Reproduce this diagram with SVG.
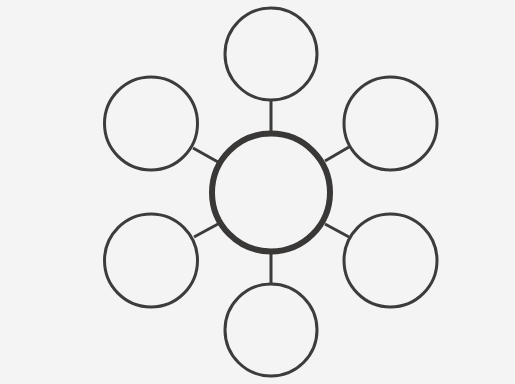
<svg xmlns="http://www.w3.org/2000/svg" width="515" height="384" viewBox="0 0 515 384">
  <style>
    .outer { fill: none; stroke: #3d3b3b; stroke-width: 3; }
    .hub { fill: none; stroke: #3a3737; stroke-width: 6; }
    .link { stroke: #3d3b3b; stroke-width: 3; fill: none; }
  </style>
  <rect x="0" y="0" width="515" height="384" fill="#f4f4f4"/>
  <g id="connectors">
    <line class="link" x1="271" y1="100" x2="271" y2="131"/>
    <line class="link" x1="271" y1="254" x2="271" y2="284"/>
    <line class="link" x1="193" y1="148" x2="218" y2="162"/>
    <line class="link" x1="349" y1="147" x2="325" y2="161"/>
    <line class="link" x1="194" y1="237" x2="218" y2="224"/>
    <line class="link" x1="349" y1="237" x2="325" y2="224"/>
  </g>
  <g id="center"><circle class="hub" cx="271" cy="192.5" r="59"/></g>
  <g id="top"><circle class="outer" cx="271" cy="54" r="46"/></g>
  <g id="top-left"><circle class="outer" cx="151" cy="123.5" r="46.5"/></g>
  <g id="top-right"><circle class="outer" cx="390.5" cy="123.5" r="46.5"/></g>
  <g id="bottom-left"><circle class="outer" cx="151" cy="260.5" r="46.5"/></g>
  <g id="bottom-right"><circle class="outer" cx="390.5" cy="260.5" r="46.5"/></g>
  <g id="bottom"><circle class="outer" cx="271" cy="330" r="46"/></g>
</svg>
